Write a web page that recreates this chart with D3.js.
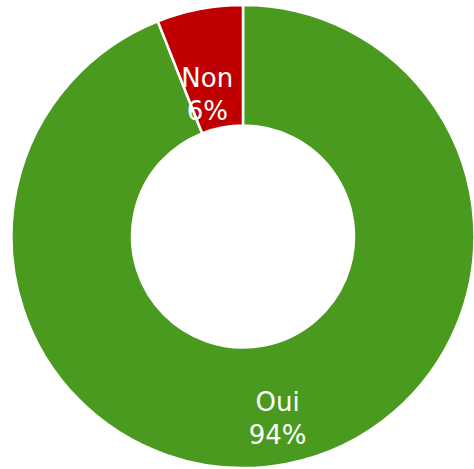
<!DOCTYPE html>
<html><head><meta charset="utf-8">
<script src="https://cdn.jsdelivr.net/npm/d3@7"></script>
<style>html,body{margin:0;padding:0;background:#fff}</style>
</head><body><svg id="c" width="474" height="469"></svg>
<script>
const categories = ["Oui", "Non"];
const values = [94, 6];
const percentLabels = ["94%", "6%"];
const colors = ["#4a9a20", "#c00000"];

const W = 474, H = 469;
const cx = 243, cy = 236.5, R = 231.5, r0 = 111;
const svg = d3.select("#c");
const g = svg.append("g").attr("transform", `translate(${cx},${cy})`);
const data = categories.map((c, i) => ({cat: c, v: values[i], pct: percentLabels[i], col: colors[i]}));
const pie = d3.pie().value(d => d.v).sort(null);
const arc = d3.arc().innerRadius(r0).outerRadius(R);
const arcs = pie(data);
g.selectAll("path").data(arcs).enter().append("path")
  .attr("d", arc).attr("fill", d => d.data.col)
  .attr("stroke", "#fff").attr("stroke-width", 2.5).attr("stroke-linejoin", "miter");

// label placement (style): radius and offsets per slice
const labelR = [185, 148];
const labelDx = [0, -8];
const labelDy = [0, 3];
arcs.forEach((a, i) => {
  const mid = (a.startAngle + a.endAngle) / 2;
  const x = Math.sin(mid) * labelR[i] + labelDx[i];
  const y = -Math.cos(mid) * labelR[i] + labelDy[i];
  const t = g.append("text").attr("text-anchor", "middle")
    .attr("font-family", "DejaVu Sans").attr("font-size", 26).attr("fill", "#fff");
  t.append("tspan").attr("x", x).attr("y", y - 7).text(a.data.cat);
  t.append("tspan").attr("x", x).attr("y", y + 26).text(a.data.pct);
});
</script></body></html>
